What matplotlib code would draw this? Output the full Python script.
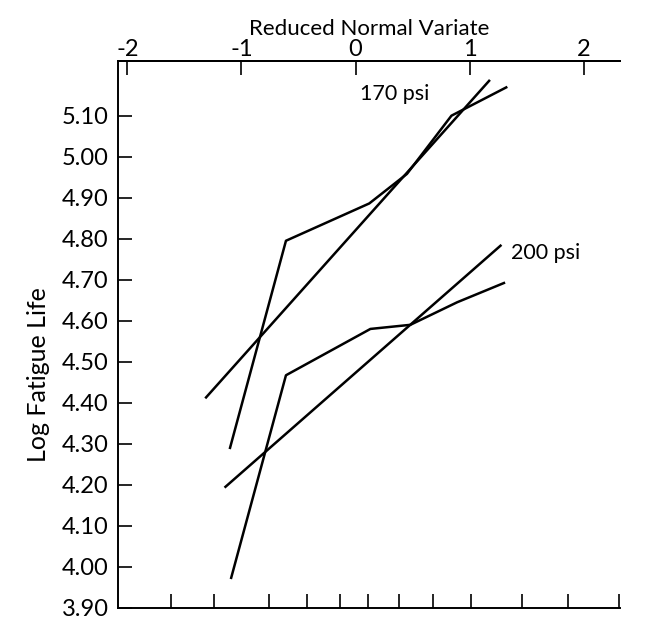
import matplotlib
matplotlib.use('Agg')
import matplotlib.pyplot as plt

plt.rcParams['font.family'] = ['Lato', 'DejaVu Sans']

# 170 psi: fitted straight line and the broken data line
fit170_x = [-1.31, 1.17]
fit170_y = [4.413, 5.185]
obs170_x = [-1.10, -0.61, 0.12, 0.45, 0.84, 1.32]
obs170_y = [4.290, 4.795, 4.886, 4.958, 5.100, 5.169]

# 200 psi
fit200_x = [-1.14, 1.27]
fit200_y = [4.195, 4.783]
obs200_x = [-1.09, -0.61, 0.13, 0.48, 0.89, 1.30]
obs200_y = [3.973, 4.467, 4.580, 4.590, 4.645, 4.692]

top_ticks = [-2, -1, 0, 1, 2]
top_labels = ['-2', '-1', '0', '1', '2']
y_ticks = [3.90, 4.00, 4.10, 4.20, 4.30, 4.40, 4.50, 4.60, 4.70, 4.80, 4.90, 5.00, 5.10]
y_labels = ['3.90', '4.00', '4.10', '4.20', '4.30', '4.40', '4.50', '4.60',
            '4.70', '4.80', '4.90', '5.00', '5.10']
# unlabelled ticks along the bottom edge (positions on the variate scale)
bottom_ticks = [-1.62, -1.24, -0.76, -0.43, -0.14, 0.11, 0.38, 0.68, 1.01, 1.46, 1.86, 2.31]

fig = plt.figure(figsize=(6.53, 6.24), dpi=100)
ax = fig.add_axes([0.181, 0.026, 0.769, 0.876])

lw = 1.8
ax.plot(fit170_x, fit170_y, color='black', lw=lw)
ax.plot(obs170_x, obs170_y, color='black', lw=lw)
ax.plot(fit200_x, fit200_y, color='black', lw=lw)
ax.plot(obs200_x, obs200_y, color='black', lw=lw)

ax.text(0.04, 5.153, '170 psi', fontsize=15.5, va='center', ha='left')
ax.text(1.36, 4.766, '200 psi', fontsize=15.5, va='center', ha='left')

ax.set_xlim(-2.08, 2.32)
ax.set_ylim(3.90, 5.233)

ax.spines['right'].set_visible(False)
for s in ['top', 'bottom', 'left']:
    ax.spines[s].set_linewidth(1.4)

ax.set_yticks(y_ticks)
ax.set_yticklabels(y_labels, fontsize=17)
ax.tick_params(axis='y', direction='in', length=10, width=1.2, pad=7)

ax.set_xticks(bottom_ticks)
ax.set_xticklabels([])
ax.tick_params(axis='x', direction='in', length=10, width=1.2, bottom=True, top=False)

sec = ax.secondary_xaxis('top')
sec.set_xticks(top_ticks)
sec.set_xticklabels(top_labels, fontsize=17)
sec.tick_params(direction='in', length=10, width=1.2, pad=1)
sec.spines['top'].set_linewidth(1.4)
sec.set_xlabel('Reduced Normal Variate', fontsize=16, labelpad=3)

ax.set_ylabel('Log Fatigue Life', fontsize=18)
ax.yaxis.set_label_coords(-0.135, 0.426)

fig.savefig('out.png', dpi=100)
